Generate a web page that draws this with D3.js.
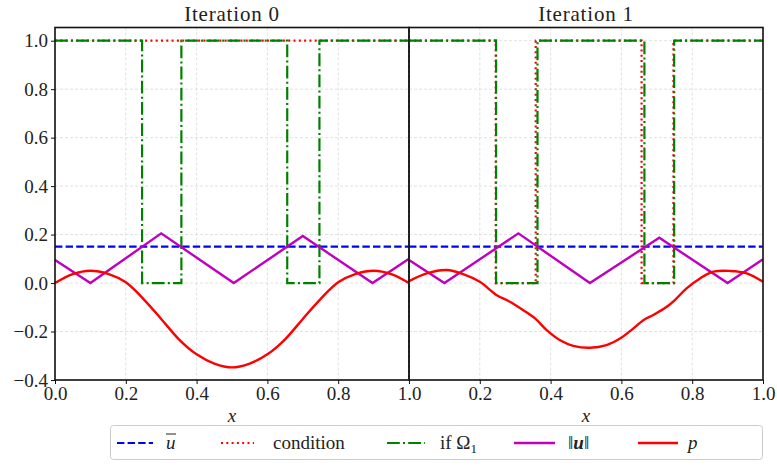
<!DOCTYPE html>
<html><head><meta charset="utf-8">
<script src="https://cdn.jsdelivr.net/npm/d3@7"></script>
<style>
body{margin:0;background:#fff;}
svg text{font-family:"Liberation Serif","Times New Roman",serif !important;fill:#222;}
</style></head><body>
<svg id="c" width="777" height="476"></svg>
<script>
// ---------- data ----------
const titles = ["Iteration 0", "Iteration 1"];
const xTicks = [0.0, 0.2, 0.4, 0.6, 0.8, 1.0];
const yTicks = [-0.4, -0.2, 0.0, 0.2, 0.4, 0.6, 0.8, 1.0];
const uBar = [0.15, 0.15];

// condition (step, value holds until next x)
const condX0 = [0, 1];
const condY0 = [1, 1];
const condX1 = [0, 0.245, 0.358, 0.657, 0.747, 1];
const condY1 = [1, 0, 1, 0, 1, 1];

// if Omega_1 (step)
const omegaX0 = [0, 0.246, 0.357, 0.656, 0.747, 1];
const omegaY0 = [1, 0, 1, 0, 1, 1];
const omegaX1 = [0, 0.246, 0.363, 0.665, 0.749, 1];
const omegaY1 = [1, 0, 1, 0, 1, 1];

// ||u||
const unormX0 = [0, 0.1, 0.3, 0.505, 0.7, 0.897, 1.0];
const unormY0 = [0.095, 0.0, 0.205, 0.0, 0.194, 0.0, 0.1];
const unormX1 = [0, 0.1, 0.309, 0.511, 0.707, 0.9, 1.0];
const unormY1 = [0.095, 0.0, 0.205, 0.0, 0.187, 0.0, 0.098];

// p
const pX0 = [0, 0.05, 0.1, 0.15, 0.2, 0.25, 0.3, 0.35, 0.4, 0.45, 0.5, 0.55, 0.6, 0.65, 0.7, 0.75, 0.8, 0.85, 0.9, 0.95, 1.0];
const pY0 = [0, 0.037, 0.051, 0.038, 0.003, -0.066, -0.148, -0.232, -0.294, -0.332, -0.348, -0.332, -0.294, -0.232, -0.148, -0.066, 0.003, 0.038, 0.051, 0.037, 0];
const pX1 = [0, 0.05, 0.106, 0.153, 0.2, 0.248, 0.285, 0.323, 0.356, 0.389, 0.427, 0.464, 0.511, 0.558, 0.596, 0.634, 0.662, 0.69, 0.728, 0.751, 0.784, 0.822, 0.86, 0.907, 0.954, 1.0];
const pY1 = [0.008, 0.04, 0.054, 0.037, 0.005, -0.05, -0.077, -0.112, -0.146, -0.194, -0.236, -0.259, -0.267, -0.256, -0.229, -0.187, -0.153, -0.132, -0.098, -0.07, -0.022, 0.019, 0.047, 0.05, 0.04, 0.005];

const legendLabels = ["u", "condition", "if Ω", "‖u‖", "p"];

// ---------- layout ----------
const svg = d3.select("#c");
const panels = [
  {x0: 55, x1: 409, title: titles[0], ubar: uBar[0], cX: condX0, cY: condY0, oX: omegaX0, oY: omegaY0, uX: unormX0, uY: unormY0, pX: pX0, pY: pY0, yLabels: true, xLab: xTicks},
  {x0: 409, x1: 763, title: titles[1], ubar: uBar[1], cX: condX1, cY: condY1, oX: omegaX1, oY: omegaY1, uX: unormX1, uY: unormY1, pX: pX1, pY: pY1, yLabels: false, xLab: xTicks.slice(1)}
];
const yTop = 27.5, yBot = 380;
const y = d3.scaleLinear().domain([-0.4, 1.0]).range([yBot, 40.7]);

const colors = {ubar: "#0000ff", cond: "#ff0000", omega: "#008000", unorm: "#bf00bf", p: "#ff0000"};
const styles = {
  ubar: {w: 2.2, dash: "7.4,3.2"},
  cond: {w: 2.2, dash: "2,3.3"},
  omega: {w: 2.2, dash: "12.8,3.2,2,3.2"},
  unorm: {w: 2.4, dash: null},
  p: {w: 2.4, dash: null}
};

panels.forEach((P, i) => {
  const x = d3.scaleLinear().domain([0, 1]).range([P.x0, P.x1]);
  const g = svg.append("g");
  // grid
  g.selectAll(".gx").data(xTicks).enter().append("line")
    .attr("x1", d => x(d)).attr("x2", d => x(d)).attr("y1", yTop).attr("y2", yBot)
    .attr("stroke", "#d9d9d9").attr("stroke-width", 0.8).attr("stroke-dasharray", "3,2");
  g.selectAll(".gy").data(yTicks).enter().append("line")
    .attr("x1", P.x0).attr("x2", P.x1).attr("y1", d => y(d)).attr("y2", d => y(d))
    .attr("stroke", "#d9d9d9").attr("stroke-width", 0.8).attr("stroke-dasharray", "3,2");

  const lin = d3.line().x(d => x(d[0])).y(d => y(d[1]));
  const step = d3.line().x(d => x(d[0])).y(d => y(d[1])).curve(d3.curveStepAfter);
  const smooth = d3.line().x(d => x(d[0])).y(d => y(d[1])).curve(d3.curveCatmullRom.alpha(0.5));

  const draw = (path, key) => {
    g.append("path").attr("d", path).attr("fill", "none")
      .attr("stroke", colors[key]).attr("stroke-width", styles[key].w)
      .attr("stroke-dasharray", styles[key].dash)
      .attr("stroke-linejoin", "miter");
  };
  draw(lin([[0, P.ubar], [1, P.ubar]]), "ubar");
  draw(step(P.cX.map((v, k) => [v, P.cY[k]])), "cond");
  draw(step(P.oX.map((v, k) => [v, P.oY[k]])), "omega");
  draw(lin(P.uX.map((v, k) => [v, P.uY[k]])), "unorm");
  draw(smooth(P.pX.map((v, k) => [v, P.pY[k]])), "p");

  // frame
  g.append("rect").attr("x", P.x0).attr("y", yTop).attr("width", P.x1 - P.x0).attr("height", yBot - yTop)
    .attr("fill", "none").attr("stroke", "#111").attr("stroke-width", 1.6);

  // x axis
  const xa = svg.append("g").attr("transform", `translate(0,${yBot})`)
    .call(d3.axisBottom(x).tickValues(P.xLab).tickSize(4).tickPadding(3).tickFormat(d3.format(".1f")));
  xa.select(".domain").remove();
  xa.selectAll("line").attr("stroke", "#111").attr("stroke-width", 1);
  xa.selectAll("text").attr("font-size", 19).attr("fill", "#222");

  if (P.yLabels) {
    const ya = svg.append("g").attr("transform", `translate(${P.x0},0)`)
      .call(d3.axisLeft(y).tickValues(yTicks).tickSize(4).tickPadding(3)
        .tickFormat(d => d3.format(".1f")(d).replace("-", "\u2212")));
    ya.select(".domain").remove();
    ya.selectAll("line").attr("stroke", "#111").attr("stroke-width", 1);
    ya.selectAll("text").attr("font-size", 19).attr("fill", "#222");
  }

  // title
  svg.append("text").attr("x", (P.x0 + P.x1) / 2).attr("y", 21)
    .attr("text-anchor", "middle").attr("font-size", 21).attr("letter-spacing", 0.8).text(P.title);
  // x label
  svg.append("text").attr("x", (P.x0 + P.x1) / 2).attr("y", 422)
    .attr("text-anchor", "middle").attr("font-size", 19).attr("font-style", "italic").text("x");
});

// ---------- legend ----------
const lg = svg.append("g");
lg.append("rect").attr("x", 110.5).attr("y", 425.5).attr("width", 652).attr("height", 34).attr("rx", 3)
  .attr("fill", "#fff").attr("stroke", "#cccccc").attr("stroke-width", 1);
const ly = 443;
const handles = [
  {key: "ubar", x1: 117, x2: 153, tx: 166},
  {key: "cond", x1: 221, x2: 254, tx: 273},
  {key: "omega", x1: 387, x2: 425, tx: 440},
  {key: "unorm", x1: 514, x2: 555, tx: 568},
  {key: "p", x1: 638, x2: 678, tx: 688}
];
handles.forEach((h, i) => {
  lg.append("line").attr("x1", h.x1).attr("x2", h.x2).attr("y1", ly).attr("y2", ly)
    .attr("stroke", colors[h.key]).attr("stroke-width", styles[h.key].w)
    .attr("stroke-dasharray", styles[h.key].dash);
});
const ty = ly + 6;
// u bar
lg.append("text").attr("x", handles[0].tx).attr("y", ty).attr("font-size", 19).attr("font-style", "italic").text(legendLabels[0]);
lg.append("line").attr("x1", handles[0].tx).attr("x2", handles[0].tx + 10).attr("y1", ly - 9).attr("y2", ly - 9)
  .attr("stroke", "#222").attr("stroke-width", 1);
lg.append("text").attr("x", handles[1].tx).attr("y", ty).attr("font-size", 19).text(legendLabels[1]);
const om = lg.append("text").attr("x", handles[2].tx).attr("y", ty).attr("font-size", 19);
om.append("tspan").text(legendLabels[2]);
om.append("tspan").attr("font-size", 13).attr("dy", 4).text("1");
const un = lg.append("text").attr("x", handles[3].tx).attr("y", ty).attr("font-size", 19);
un.append("tspan").text("‖");
un.append("tspan").attr("font-weight", "bold").attr("font-style", "italic").text("u");
un.append("tspan").text("‖");
lg.append("text").attr("x", handles[4].tx).attr("y", ty).attr("font-size", 19).attr("font-style", "italic").text(legendLabels[4]);
</script>
</body></html>
